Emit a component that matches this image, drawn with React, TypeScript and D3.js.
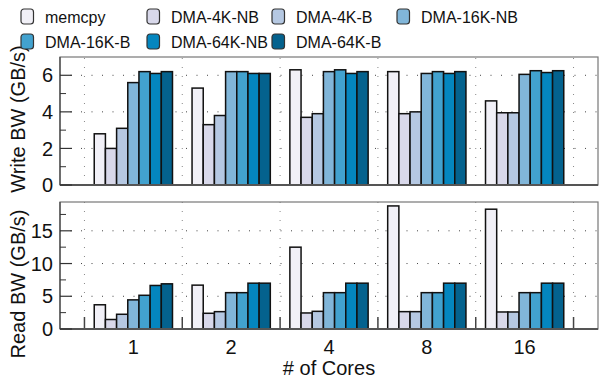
import React, { useEffect, useRef } from "react"
import * as d3 from "d3"

// Categories and series
const cores = ["1", "2", "4", "8", "16"]
const series = ["memcpy", "DMA-4K-NB", "DMA-4K-B", "DMA-16K-NB", "DMA-16K-B", "DMA-64K-NB", "DMA-64K-B"]
const colors = ["#f1f0f7", "#d8d8ea", "#b5c8e2", "#81b6d9", "#42a2cf", "#0486bf", "#04628e"]

// Write bandwidth (GB/s), one array per series, indexed by cores
const writeMemcpy = [2.8, 5.3, 6.3, 6.2, 4.6]
const write4KNB = [2.0, 3.3, 3.7, 3.9, 3.95]
const write4KB = [3.1, 3.8, 3.9, 4.0, 3.95]
const write16KNB = [5.6, 6.2, 6.2, 6.1, 6.05]
const write16KB = [6.2, 6.2, 6.3, 6.2, 6.25]
const write64KNB = [6.1, 6.1, 6.1, 6.1, 6.15]
const write64KB = [6.2, 6.1, 6.2, 6.2, 6.25]

// Read bandwidth (GB/s)
const readMemcpy = [3.7, 6.7, 12.5, 18.8, 18.3]
const read4KNB = [1.45, 2.4, 2.45, 2.65, 2.6]
const read4KB = [2.25, 2.65, 2.7, 2.65, 2.6]
const read16KNB = [4.45, 5.55, 5.55, 5.55, 5.55]
const read16KB = [5.15, 5.55, 5.55, 5.55, 5.55]
const read64KNB = [6.65, 7.0, 7.0, 7.0, 7.0]
const read64KB = [6.9, 7.0, 7.0, 7.0, 7.0]

const writeData = [writeMemcpy, write4KNB, write4KB, write16KNB, write16KB, write64KNB, write64KB]
const readData = [readMemcpy, read4KNB, read4KB, read16KNB, read16KB, read64KNB, read64KB]

const writeTicks = [0, 2, 4, 6]
const readTicks = [0, 5, 10, 15]

const FONT = "'Liberation Sans', Arial, sans-serif"

const App = () => {
	const ref = useRef<SVGSVGElement>(null)

	useEffect(() => {
		const width = 602
		const height = 378
		const left = 60
		const right = 598

		const svg = d3
			.select(ref.current)
			.attr("width", width)
			.attr("height", height)
			.style("font-family", FONT)

		svg.selectAll("*").remove()

		const x = d3.scaleBand<string>().domain(cores).range([left, right]).paddingInner(0.2).paddingOuter(0.35)
		const xs = d3.scaleBand<string>().domain(series).range([0, x.bandwidth()])
		const step = x.step()

		// Draw one panel
		const panel = (
			data: number[][],
			ticks: number[],
			minor: number[],
			ymax: number,
			top: number,
			bottom: number,
			label: string,
			labelY: number,
			baseTicks: boolean,
		) => {
			const y = d3.scaleLinear().domain([0, ymax]).range([bottom, top])
			const g = svg.append("g")

			// horizontal dotted grid at major ticks
			g.selectAll(".hgrid")
				.data(ticks.filter(t => t > 0))
				.join("line")
				.attr("x1", left)
				.attr("x2", right)
				.attr("y1", d => y(d))
				.attr("y2", d => y(d))
				.attr("stroke", "#444")
				.attr("stroke-width", 1)
				.attr("stroke-dasharray", "1,9.5")

			// vertical dotted dividers between groups
			const dividers = cores.map(c => (x(c) as number) + x.bandwidth() / 2 - step / 2)
			dividers.push((x(cores[cores.length - 1]) as number) + x.bandwidth() / 2 + step / 2)
			g.selectAll(".vgrid")
				.data(dividers)
				.join("line")
				.attr("x1", d => d)
				.attr("x2", d => d)
				.attr("y1", bottom)
				.attr("y2", top)
				.attr("stroke", "#888")
				.attr("stroke-width", 1)
				.attr("stroke-dasharray", "1,8")

			if (baseTicks) {
				g.selectAll(".vtick")
					.data(dividers)
					.join("line")
					.attr("x1", d => d)
					.attr("x2", d => d)
					.attr("y1", bottom)
					.attr("y2", bottom - 12)
					.attr("stroke", "#444")
					.attr("stroke-width", 1.5)
			}

			// bars
			series.forEach((s, si) => {
				g.selectAll(`.bar${si}`)
					.data(data[si])
					.join("rect")
					.attr("x", (_, i) => (x(cores[i]) as number) + (xs(s) as number))
					.attr("y", d => y(d))
					.attr("width", xs.bandwidth())
					.attr("height", d => bottom - y(d))
					.attr("fill", colors[si])
					.attr("stroke", "#111")
					.attr("stroke-width", 1.5)
			})

			// frame
			g.append("rect")
				.attr("x", left)
				.attr("y", top)
				.attr("width", right - left)
				.attr("height", bottom - top)
				.attr("fill", "none")
				.attr("stroke", "#777")
				.attr("stroke-width", 1.2)
			g.append("line")
				.attr("x1", left)
				.attr("x2", right)
				.attr("y1", bottom)
				.attr("y2", bottom)
				.attr("stroke", "#555")
				.attr("stroke-width", 2)
			g.append("line")
				.attr("x1", left)
				.attr("x2", left)
				.attr("y1", bottom)
				.attr("y2", top)
				.attr("stroke", "#444")
				.attr("stroke-width", 1.2)

			// y ticks
			g.selectAll(".ytick")
				.data(ticks)
				.join("line")
				.attr("x1", left)
				.attr("x2", left + 12)
				.attr("y1", d => y(d))
				.attr("y2", d => y(d))
				.attr("stroke", "#333")
				.attr("stroke-width", 1.2)
			g.selectAll(".ymtick")
				.data(minor)
				.join("line")
				.attr("x1", left)
				.attr("x2", left + 6)
				.attr("y1", d => y(d))
				.attr("y2", d => y(d))
				.attr("stroke", "#333")
				.attr("stroke-width", 1)
			g.selectAll(".ylab")
				.data(ticks)
				.join("text")
				.attr("x", left - 7)
				.attr("y", d => y(d))
				.attr("dy", "0.36em")
				.attr("text-anchor", "end")
				.style("font-size", "20px")
				.attr("fill", "#111")
				.text(d => d)

			// y title
			g.append("text")
				.attr("transform", `translate(25,${labelY}) rotate(-90)`)
				.attr("text-anchor", "middle")
				.style("font-size", "20px")
				.attr("fill", "#111")
				.text(label)
		}

		panel(writeData, writeTicks, [1, 3, 5], 7, 57, 185, "Write BW (GB/s)", 119, false)
		panel(readData, readTicks, [2.5, 7.5, 12.5, 17.5], 19.4, 202, 329, "Read BW (GB/s)", 284, true)

		// x tick labels
		svg.selectAll(".xlab")
			.data(cores)
			.join("text")
			.attr("x", d => (x(d) as number) + x.bandwidth() / 2)
			.attr("y", 354)
			.attr("text-anchor", "middle")
			.style("font-size", "20px")
			.attr("fill", "#111")
			.text(d => d)

		svg.append("text")
			.attr("x", 329)
			.attr("y", 375)
			.attr("text-anchor", "middle")
			.style("font-size", "20px")
			.attr("fill", "#111")
			.text("# of Cores")

		// legend
		const legendX = [21, 147, 272, 397]
		const legend = svg.selectAll(".leg")
			.data(series)
			.join("g")
			.attr("transform", (_, i) => `translate(${legendX[i % 4]},${i < 4 ? 9 : 34})`)
		legend.append("rect")
			.attr("width", 12.5)
			.attr("height", 15)
			.attr("rx", 3)
			.attr("fill", (_, i) => colors[i])
			.attr("stroke", "#333")
			.attr("stroke-width", 1.2)
		legend.append("text")
			.attr("x", 24)
			.attr("y", 13.5)
			.style("font-size", "16px")
			.attr("fill", "#111")
			.text(d => d)
	}, [])

	return <svg ref={ref} style={{ position: "absolute", left: 0, top: 0 }}></svg>
}

export default App
